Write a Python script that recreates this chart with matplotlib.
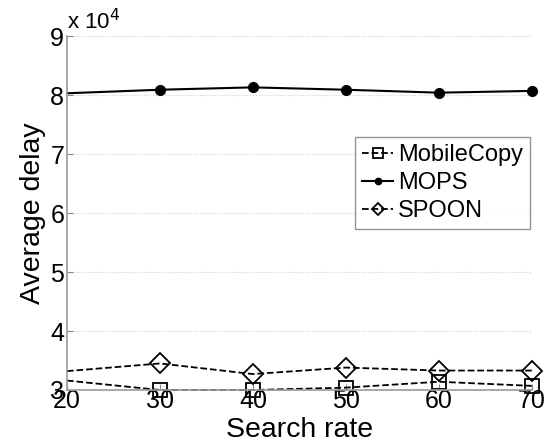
import matplotlib
matplotlib.use("Agg")
import matplotlib.pyplot as plt

plt.rcParams['font.family'] = ['Liberation Sans', 'DejaVu Sans']

search_rate = [20, 30, 40, 50, 60, 70]
mobilecopy = [3.16, 3.00, 3.00, 3.04, 3.14, 3.07]
mops = [8.03, 8.09, 8.13, 8.09, 8.04, 8.07]
spoon = [3.32, 3.45, 3.27, 3.38, 3.33, 3.33]
yticks = [3, 4, 5, 6, 7, 8, 9]
xticks = [20, 30, 40, 50, 60, 70]

fig = plt.figure(figsize=(5.46, 4.45), dpi=100)
ax = fig.add_axes([0.1227, 0.1236, 0.8513, 0.7954])

mk = slice(1, None)
ax.plot(search_rate, mobilecopy, '--', color='black', marker='s', markersize=10,
        markerfacecolor='none', markeredgewidth=1.3, lw=1.3, markevery=mk,
        label='MobileCopy', clip_on=False)
ax.plot(search_rate, mops, '-', color='black', marker='o', markersize=7,
        lw=1.5, markevery=mk, label='MOPS', clip_on=False)
ax.plot(search_rate, spoon, '--', color='black', marker='D', markersize=10,
        markerfacecolor='none', markeredgewidth=1.3, lw=1.3, markevery=mk,
        label='SPOON', clip_on=False)

ax.set_xlim(20, 70)
ax.set_ylim(3, 9)
ax.set_xticks(xticks)
ax.set_yticks(yticks)
ax.tick_params(labelsize=18, length=4, color='#888888', direction='in')
ax.tick_params(axis='x', pad=-1)
ax.tick_params(axis='y', pad=2)
ax.yaxis.grid(True, linestyle=':', color='#cccccc', lw=0.8)
for s in ['top', 'right']:
    ax.spines[s].set_visible(False)
for s in ['left', 'bottom']:
    ax.spines[s].set_color('#999999')
    ax.spines[s].set_linewidth(1.2)

ax.set_xlabel('Search rate', fontsize=20.5, labelpad=3.5)
ax.set_ylabel('Average delay', fontsize=20.5, labelpad=3)
ax.text(0.0, 1.005, r'x 10$^4$', transform=ax.transAxes, fontsize=16,
        ha='left', va='bottom')

leg = ax.legend(loc='upper left', bbox_to_anchor=(0.62, 0.715), fontsize=17,
                frameon=True, fancybox=False, handlelength=1.3,
                handletextpad=0.2, borderpad=0.3, labelspacing=0.25,
                borderaxespad=0, markerscale=0.65)
leg.get_frame().set_edgecolor('#777777')
leg.get_frame().set_linewidth(1.0)

fig.savefig('out.png', dpi=100)
